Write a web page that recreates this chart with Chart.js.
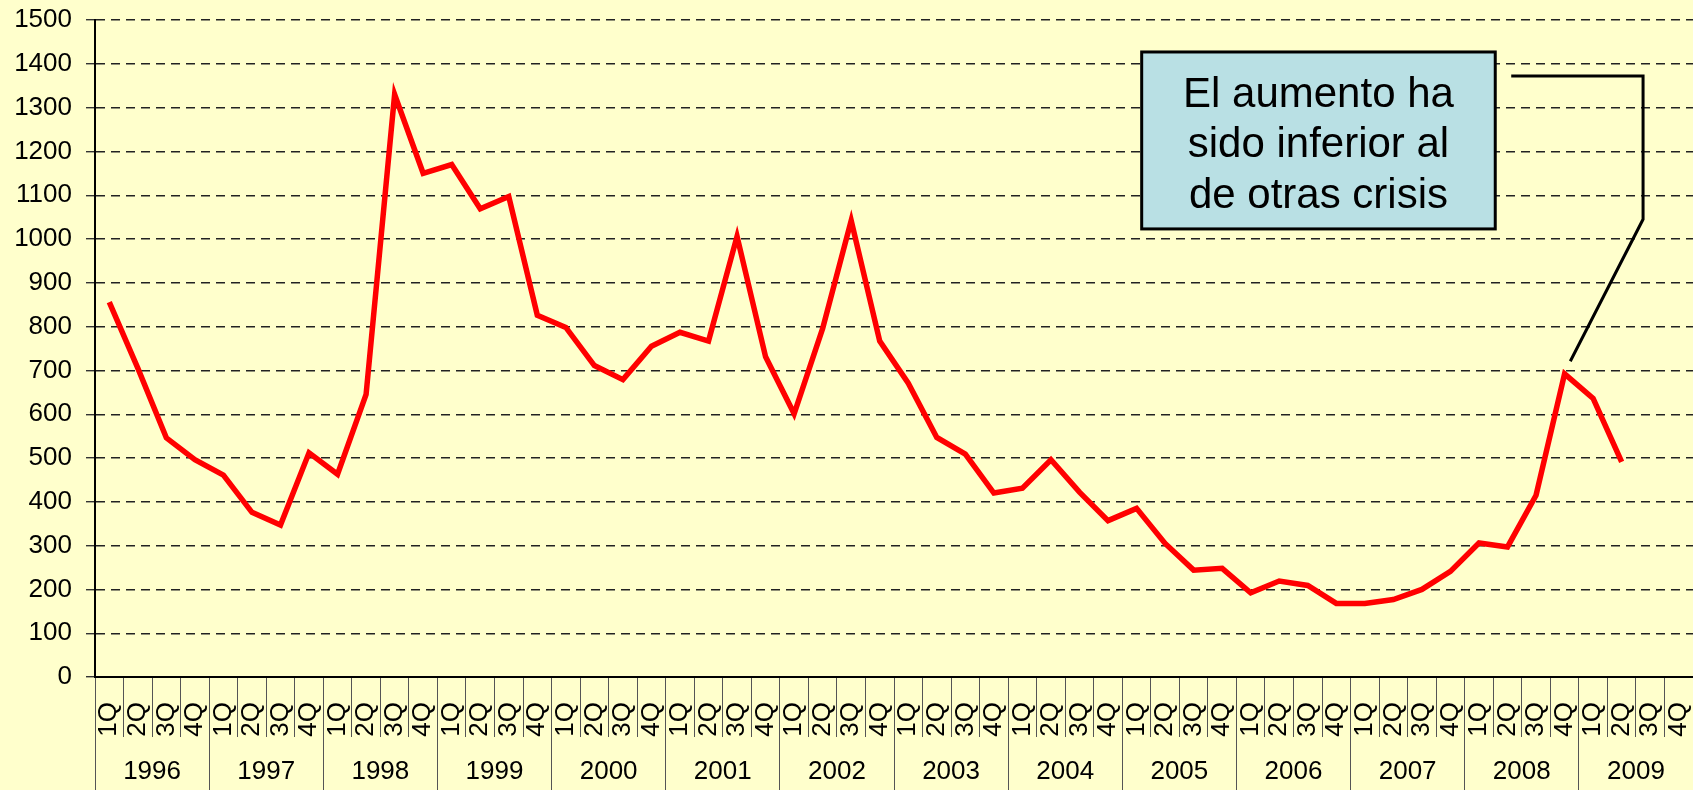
<!DOCTYPE html>
<html>
<head>
<meta charset="utf-8">
<script src="https://cdn.jsdelivr.net/npm/chart.js@4"></script>
<style>
  html, body { margin: 0; padding: 0; background: #FFFFCC; }
  #wrap { width: 1693px; height: 790px; position: relative; }
</style>
</head>
<body>
<div id="wrap"><canvas id="chart"></canvas></div>
<script>
const years = ["1996", "1997", "1998", "1999", "2000", "2001", "2002", "2003", "2004", "2005", "2006", "2007", "2008", "2009"];
const quarters = ["1Q", "2Q", "3Q", "4Q"];
const values = [
  856, 705, 546, 496,
  461, 376, 347, 512,
  463, 645, 1330, 1150,
  1170, 1069, 1097, 826,
  798, 711, 679, 755,
  787, 767, 1006, 731,
  601, 796, 1042, 767,
  671, 547, 509, 420,
  431, 496, 422, 357,
  385, 305, 244, 248,
  192, 219, 209, 168,
  168, 177, 200, 241,
  306, 297, 415, 692,
  636, 491, null, null
];
const calloutLines = ["El aumento ha", "sido inferior al", "de otras crisis"];

const categories = [];
years.forEach(() => quarters.forEach(q => categories.push(q)));

const FONT = "'Liberation Sans', Arial, sans-serif";

// callout box + leader line, placed with the chart's scales
const callout = {
  id: "callout",
  afterDraw(chart) {
    const { ctx } = chart;
    const x = chart.scales.x, y = chart.scales.y;
    const left = x.getPixelForValue(36.18), right = x.getPixelForValue(48.57);
    const top = y.getPixelForValue(1427), bottom = y.getPixelForValue(1023);
    ctx.save();
    ctx.fillStyle = "#B9E0E4";
    ctx.fillRect(left, top, right - left, bottom - top);
    ctx.lineWidth = 3;
    ctx.strokeStyle = "#000";
    ctx.strokeRect(left, top, right - left, bottom - top);
    ctx.fillStyle = "#000";
    ctx.font = "42px " + FONT;
    ctx.textAlign = "center";
    ctx.textBaseline = "alphabetic";
    calloutLines.forEach((t, i) => ctx.fillText(t, (left + right) / 2, top + 55 + i * 50.5));
    ctx.beginPath();
    ctx.lineWidth = 3;
    ctx.moveTo(x.getPixelForValue(49.13), y.getPixelForValue(1372));
    ctx.lineTo(x.getPixelForValue(53.75), y.getPixelForValue(1372));
    ctx.lineTo(x.getPixelForValue(53.75), y.getPixelForValue(1045));
    ctx.lineTo(x.getPixelForValue(51.2), y.getPixelForValue(721));
    ctx.stroke();
    ctx.restore();
  }
};

new Chart(document.getElementById("chart"), {
  type: "line",
  data: {
    labels: categories,
    datasets: [{
      data: values,
      borderColor: "#FF0000",
      borderWidth: 5.5,
      pointRadius: 0,
      tension: 0,
      fill: false
    }]
  },
  options: {
    responsive: true,
    maintainAspectRatio: false,
    animation: false,
    layout: { padding: { top: 20, right: 0, left: 0, bottom: 0 } },
    plugins: { legend: { display: false }, tooltip: { enabled: false } },
    scales: {
      x: {
        type: "category",
        position: "bottom",
        offset: true,
        afterFit: s => { s.height = 60; s.paddingTop = 0; },
        grid: { offset: true, drawOnChartArea: false, tickLength: 60, color: "#555", lineWidth: 1 },
        border: { display: true, color: "#000", width: 2 },
        ticks: { autoSkip: false, minRotation: 90, maxRotation: 90, padding: -35, color: "#000", font: { family: FONT, size: 26 } }
      },
      x2: {
        type: "category",
        position: "bottom",
        labels: years,
        offset: true,
        afterFit: s => { s.height = 53; s.paddingTop = 0; },
        grid: { offset: true, drawOnChartArea: false, tickLength: 53, color: "#555", lineWidth: 1 },
        border: { display: false },
        ticks: { autoSkip: false, maxRotation: 0, padding: -34, color: "#000", font: { family: FONT, size: 26 } }
      },
      y: {
        min: 0,
        max: 1500,
        afterFit: s => { s.width = 95; s.paddingTop = 0; s.paddingBottom = 0; },
        grid: { color: "#222", lineWidth: 1.4, tickLength: 9, tickColor: "#333" },
        border: { display: true, color: "#000", width: 2, dash: [9, 6] },
        ticks: { stepSize: 100, padding: 14, color: "#000", font: { family: FONT, size: 26 }, callback: v => String(v) }
      }
    }
  },
  plugins: [callout]
});
</script>
</body>
</html>
